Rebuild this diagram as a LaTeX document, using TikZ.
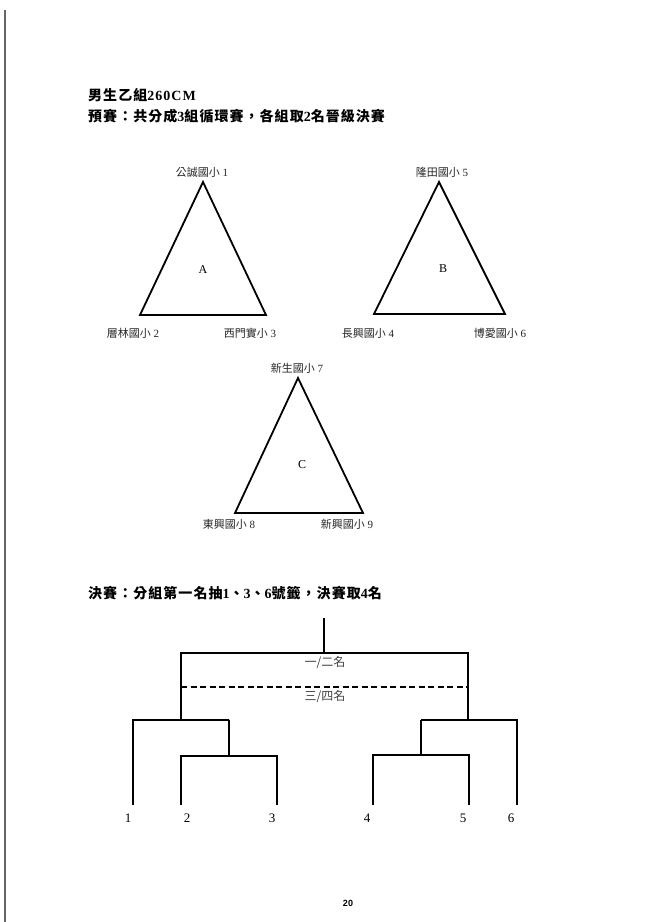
\documentclass[tikz,border=0pt]{standalone}
\usepackage{fontspec}
\setmainfont{Liberation Serif}
\newfontfamily\cjk{Noto Sans CJK TC}
\newfontfamily\cjkh{Noto Sans CJK TC}[LetterSpace=7.5]
\newfontfamily\serh{Liberation Serif}[LetterSpace=7.5]
\newfontfamily\pgsans{Liberation Sans}
\begin{document}
\begin{tikzpicture}[x=1pt,y=-1pt,
  tri/.style={line width=1.8pt, line join=miter},
  lbl/.style={font=\fontsize{11}{12}\selectfont, inner sep=0pt, text=black!85},
  grp/.style={font=\fontsize{12}{13}\selectfont, inner sep=0pt},
  br/.style={line width=1.6pt},
  num/.style={font=\fontsize{13}{14}\selectfont, inner sep=0pt},
  rk/.style={font=\cjk\fontsize{12}{13}\selectfont, inner sep=0pt, text=black!75},
  head/.style={anchor=west, inner sep=0pt, font=\serh\bfseries\fontsize{14}{15}\selectfont}]
\useasboundingbox[fill=white] (0,0) rectangle (651,922);
% scan edge
\draw[line width=1.3pt, black!60] (5,10) -- (5,922);

% headings
\node[head] (title) at (88,95) {{\cjkh 男生乙組}260CM};
\node[head] (pre) at (88,116) {{\cjkh 預賽：共分成}3{\cjkh 組循環賽，各組取}2{\cjkh 名晉級決賽}};

% triangle A
\coordinate (A1) at (203,182);
\coordinate (A2) at (140,315);
\coordinate (A3) at (266,315);
\draw[tri] (A1) -- (A2) -- (A3) -- cycle;
\node[grp] (gA) at (203,270) {A};
\node[lbl] (tA1) at (202,172) {{\cjk 公誠國小} 1};
\node[lbl] (tA2) at (133,333) {{\cjk 層林國小} 2};
\node[lbl] (tA3) at (250,333) {{\cjk 西門實小} 3};

% triangle B
\coordinate (B1) at (439,182);
\coordinate (B2) at (374,314);
\coordinate (B3) at (505,314);
\draw[tri] (B1) -- (B2) -- (B3) -- cycle;
\node[grp] (gB) at (443,269) {B};
\node[lbl] (tB1) at (442,172) {{\cjk 隆田國小} 5};
\node[lbl] (tB2) at (368,333) {{\cjk 長興國小} 4};
\node[lbl] (tB3) at (500,333) {{\cjk 博愛國小} 6};

% triangle C
\coordinate (C1) at (298,378);
\coordinate (C2) at (235,513);
\coordinate (C3) at (363,513);
\draw[tri] (C1) -- (C2) -- (C3) -- cycle;
\node[grp] (gC) at (302,465) {C};
\node[lbl] (tC1) at (297,368) {{\cjk 新生國小} 7};
\node[lbl] (tC2) at (229,524) {{\cjk 東興國小} 8};
\node[lbl] (tC3) at (347,524) {{\cjk 新興國小} 9};

% finals heading
\node[head] (fin) at (88,593) {{\cjkh 決賽：分組第一名抽}1{\cjkh 、}3{\cjkh 、}6{\cjkh 號籤，決賽取}4{\cjkh 名}};

% bracket
\coordinate (t0) at (324,618);
\coordinate (t1) at (324,653);
\coordinate (sL) at (181,720);
\coordinate (sR) at (468,720);
\coordinate (qL) at (229,720);
\coordinate (mL) at (229,756);
\coordinate (qR) at (421,720);
\coordinate (mR) at (421,755);
\coordinate (p1) at (133,805);
\coordinate (p2) at (181,805);
\coordinate (p3) at (277,805);
\coordinate (p4) at (373,805);
\coordinate (p5) at (469,805);
\coordinate (p6) at (517,805);
\coordinate (dL) at (181,687);
\coordinate (dR) at (468,687);

\draw[br] (t0) -- (t1);
\draw[br] (sL) |- (t1) -| (sR);
\draw[br, dash pattern=on 6pt off 3.5pt] (dL) -- (dR);
\draw[br] (p1) |- (qL) -| (sL);
\draw[br] (qL) -- (mL);
\draw[br] (p2) |- (mL) -| (p3);
\draw[br] (p6) |- (qR) -| (sR);
\draw[br] (qR) -- (mR);
\draw[br] (p4) |- (mR) -| (p5);

\node[rk] (r12) at (325,663) {一/二名};
\node[rk] (r34) at (325,697) {三/四名};

\node[num] (n1) at (128,818) {1};
\node[num] (n2) at (187,818) {2};
\node[num] (n3) at (272,818) {3};
\node[num] (n4) at (367,818) {4};
\node[num] (n5) at (463,818) {5};
\node[num] (n6) at (511,818) {6};

\node[inner sep=0pt, font=\pgsans\bfseries\fontsize{9}{10}\selectfont] (page) at (348,903) {20};
\end{tikzpicture}
\end{document}
